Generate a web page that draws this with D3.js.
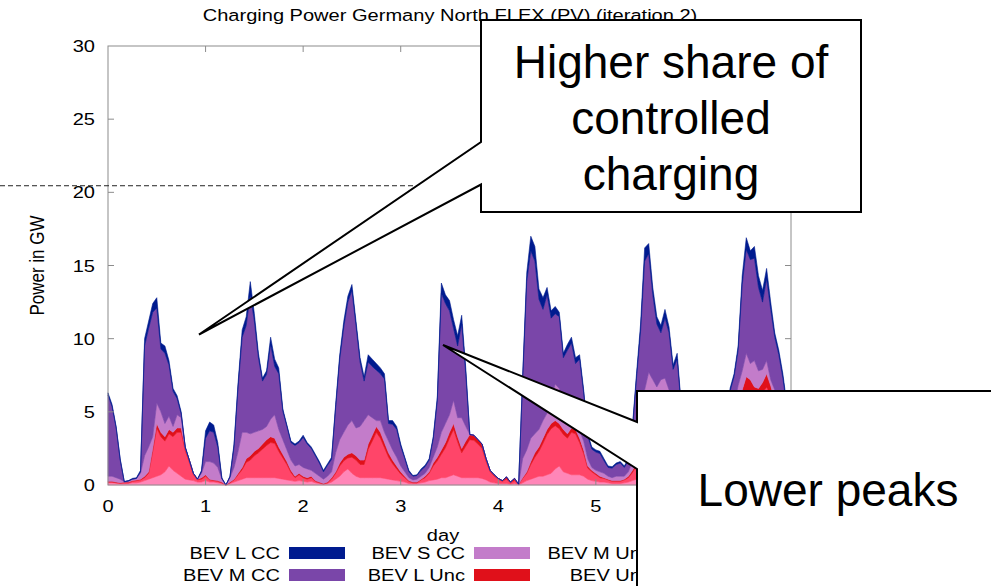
<!DOCTYPE html>
<html>
<head>
<meta charset="utf-8">
<script src="https://cdn.jsdelivr.net/npm/d3@7"></script>
<style>
  body { margin: 0; background: #fff; }
  svg { display: block; }
</style>
</head>
<body>
<svg id="chart" width="991" height="586"></svg>
<script>
// ---- data: hourly charging power in GW, one value per hour over 7 days ----
const dayTicks = [0, 1, 2, 3, 4, 5, 6, 7];
const powerTicks = [0, 5, 10, 15, 20, 25, 30];
const hoursPerDay = 24;
const previousPeak = 20.45; // GW, reference level of the earlier iteration

const bevUnc = [
  .15,.15,.12,.1,.1,.1,.15,.15,.2,.3,
  .4,.5,.6,.7,.9,1.3,1.0,.8,.6,.4,
  .35,.3,.2,.2,.3,.2,.2,.15,.1,0,
  .1,.2,.3,.4,.5,.5,.5,.5,.5,.5,
  .5,.5,.45,.4,.35,.3,.25,.3,.25,.2,
  .25,.15,.1,.05,.1,.2,.4,.6,.9,1.1,
  .8,.6,.5,.5,.5,.5,.5,.5,.45,.4,
  .35,.3,.25,.2,.1,.1,.1,.15,.2,.3,
  .35,.4,.5,.5,.6,.7,.6,.5,.5,.5,
  .5,.5,.45,.35,.2,.15,.1,.1,.1,.05,
  .1,.02,.15,.3,.4,.5,.6,.6,.7,.8,
  1.1,1.3,.9,.8,.7,.7,.7,.6,.4,.3,
  .25,.2,.2,.15,.1,.1,.1,.15,.2,.3,
  .4,.5,.7,1.0,1.0,.9,1.0,1.0,.9,.8,
  .8,.7,.5,.4,.3,.25,.2,.15,.15,.15,
  .2,.3,.4,.6,.8,1.0,1.1,1.2,1.2,1.1,
  1.1,1.1,1.2,1.1,1.0,.9,.8,.6,.4
];
const bevMUnc = [
  .05,.05,.04,.02,.05,.05,.1,.15,.15,.2,
  .4,1.8,3.3,2.6,2.1,2.2,2.3,2.8,3.0,1.95,
  1.2,.4,.15,.2,.3,.15,.1,.1,.05,0,
  .05,.15,.4,.65,1.05,1.2,1.5,1.7,1.95,2.2,
  2.4,2.35,1.85,1.45,1.05,.55,.25,.4,.25,.2,
  .25,.1,.05,.02,.05,.2,.4,.7,.75,.75,
  1.1,1.1,.9,.9,1.95,2.5,3.1,2.7,2.1,1.5,
  1.1,.8,.5,.3,.15,.05,.05,.2,.3,.5,
  .95,1.25,1.6,2.05,2.6,3.1,2.35,1.7,2.15,2.6,
  2.55,2.3,2.05,1.25,.7,.45,.3,.15,.3,.1,
  .2,.02,.3,.5,1.0,1.4,1.7,2.25,2.75,3.05,
  2.95,2.55,2.55,2.4,2.9,2.8,2.2,1.55,.75,.6,
  .45,.3,.25,.2,.15,.15,.15,.2,.3,.55,
  .9,1.7,2.9,4.8,4.7,4.2,4.4,4.6,4.1,3.75,
  3.5,2.75,1.9,1.2,.85,.55,.3,.2,.2,.3,
  .5,.75,1.35,2.2,2.9,3.9,4.7,5.3,5.2,5.0,
  4.9,5.2,5.5,5.0,4.2,3.6,3.0,2.3,1.6
];
const bevLUnc = [
  .05,.05,.04,.03,.05,.05,.05,.05,.05,.1,
  .1,.2,.3,.3,.3,.3,.3,.3,.3,.2,
  .15,.1,.05,.1,.1,.05,.05,.05,.05,0,
  .05,.05,.1,.15,.25,.3,.3,.3,.35,.4,
  .4,.35,.3,.25,.2,.15,.1,.1,.1,.1,
  .1,.05,.05,.03,.05,.1,.1,.2,.25,.25,
  .3,.3,.3,.3,.35,.4,.4,.4,.35,.3,
  .25,.2,.15,.1,.05,.05,.05,.05,.1,.1,
  .2,.25,.3,.35,.4,.4,.35,.3,.35,.35,
  .35,.3,.3,.2,.1,.1,.05,.05,.15,.05,
  .15,.01,.05,.1,.2,.3,.3,.35,.35,.35,
  .35,.35,.35,.3,.3,.3,.3,.25,.15,.1,
  .1,.1,.05,.05,.05,.05,.05,.05,.1,.15,
  .2,.3,.4,.7,.6,.5,.5,.6,.5,.45,
  .4,.35,.3,.2,.15,.1,.1,.05,.05,.05,
  .1,.15,.25,.4,.5,.6,.7,.9,.8,.6,
  .6,.7,.9,.7,.6,.5,.4,.3,.2
];
const bevSCC = [
  .35,.35,.3,.25,.02,.05,.08,.1,.4,1.4,
  1.7,.8,1.4,1.4,.9,.9,.4,.9,.7,.02,
  0,0,0,.3,.9,1.2,1.15,.9,.2,0,
  .3,.8,1.5,2.4,1.8,1.5,1.3,1.2,1.0,.9,
  1.2,1.6,1.2,1.0,.8,.7,.7,.6,.6,.6,
  .4,.5,.4,.3,.4,.4,1.3,1.6,1.7,2.0,
  2.2,1.9,2.3,2.7,2.0,1.2,.4,.8,.7,.8,
  .7,.6,.4,.3,.2,.15,.2,.2,.2,.3,
  .4,.7,1.2,1.3,1.2,1.6,1.3,2.1,1.0,0,
  0,0,0,0,0,0,0,0,0,0,
  0,0,1.3,1.5,1.6,1.3,1.2,1.2,1.1,1.6,
  2.5,2.4,1.6,.7,.2,.2,.5,.6,.5,.2,
  .2,.3,.3,.2,.2,.3,.3,.2,.3,.6,
  1.1,1.9,2.5,1.2,.9,1.1,1.3,1.1,1.0,1.0,
  .9,.8,.5,.4,.4,.3,.3,.3,.3,.4,
  .4,.6,.8,1.0,1.2,1.3,1.3,1.6,1.1,1.8,
  1.2,.9,.9,.4,.7,.8,.8,.7,.5
];
const bevMCC = [
  5.55,4.75,3.4,1.3,0,.02,.02,0,.1,7.5,
  8.1,8.5,6.5,4.3,4.8,3.5,2.4,1.1,.25,0,
  0,0,0,.1,1.6,2.1,2.1,1.4,.05,0,
  .05,1.4,4.4,6.5,7.3,9.5,7.6,5.0,3.3,3.55,
  5.1,3.3,3.8,1.95,1.6,1.2,1.4,1.5,2.05,1.7,
  1.5,1.2,.9,.5,.75,.85,3.1,5.5,7.2,8.4,
  8.9,7.0,4.4,2.7,3.6,3.5,3.45,3.2,3.65,1.2,
  1.75,1.9,1.35,.9,.4,.25,.25,.4,.45,.5,
  1.25,3.15,9.5,8.2,7.1,4.9,4.9,6.4,3.6,0,
  0,0,0,0,0,0,0,0,0,0,
  0,0,5.4,11.5,12.8,11.8,8.9,7.6,8.1,5.6,
  4.8,4.9,3.3,5.0,5.6,4.3,4.9,3.3,1.55,1.25,
  1.25,1.25,.85,.6,.65,.8,.9,.6,.75,2.2,
  4.7,6.1,8.8,8.1,5.8,4.3,3.2,4.1,3.9,1.9,
  3.0,.7,.2,.2,.2,.2,.2,.2,.2,.3,
  .5,.55,1.0,2.2,2.0,2.4,5.9,7.1,7.1,7.0,
  5.7,4.6,5.6,4.8,3.6,3.1,2.3,1.4,.7
];
const bevLCC = [
  .15,.15,.1,.1,.03,.03,.05,.05,.1,.5,
  .5,.6,.7,.4,.5,.3,.2,.2,.15,.03,
  0,0,0,.1,.5,.6,.5,.3,.05,0,
  .05,.2,.3,.5,.6,.9,.5,.3,.2,.25,
  .5,.5,.4,.15,.1,.1,.1,.1,.15,.1,
  .1,.1,.1,.1,.1,.15,.2,.3,.4,.4,
  .4,.3,.3,.3,.5,.5,.45,.4,.35,.2,
  .25,.2,.15,.1,.1,.05,.05,.1,.1,.1,
  .15,.25,.7,.6,.7,.6,.7,.6,.4,0,
  0,0,0,0,0,0,0,0,0,0,
  0,0,.3,.6,1.0,1.0,.7,.8,.5,.5,
  .5,.3,.3,.4,.4,.4,.3,.2,.15,.15,
  .15,.15,.15,.1,.1,.1,.1,.1,.15,.2,
  .3,.5,.9,.7,.5,.5,.5,.6,.4,.3,
  .4,.2,.1,.1,.1,.1,.1,.1,.1,.1,
  .1,.15,.2,.2,.2,.3,.6,.8,.6,.8,
  .8,.8,.7,.5,.3,.3,.3,.2,.1
];

// stacking order, bottom to top
const seriesKeys = ["unc", "mUnc", "lUnc", "sCC", "mCC", "lCC"];
const seriesValues = { unc: bevUnc, mUnc: bevMUnc, lUnc: bevLUnc, sCC: bevSCC, mCC: bevMCC, lCC: bevLCC };
const seriesLabels = { lCC: "BEV L CC", mCC: "BEV M CC", sCC: "BEV S CC", lUnc: "BEV L Unc", mUnc: "BEV M Unc", unc: "BEV Unc" };
const seriesColors = { lCC: "#001b8f", mCC: "#7a46a9", sCC: "#c37cca", lUnc: "#e0101a", mUnc: "#ff4569", unc: "#ff86b8" };
const legendOrder = ["lCC", "mCC", "sCC", "lUnc", "mUnc", "unc"];

// ---- layout ----
const svg = d3.select("#chart");
const plot = { left: 108, right: 791, top: 46, bottom: 485 };
const FONT = "'Liberation Sans', Arial, Helvetica, sans-serif";
const SX = 1.18; // gnuplot text is rendered slightly wide

const x = d3.scaleLinear().domain([0, 7]).range([plot.left, plot.right]);
const y = d3.scaleLinear().domain([0, 30]).range([plot.bottom, plot.top]);

const rows = bevLCC.map((_, i) => {
  const r = { day: i / hoursPerDay };
  seriesKeys.forEach(k => r[k] = seriesValues[k][i]);
  return r;
});
const stacked = d3.stack().keys(seriesKeys)(rows);

const area = d3.area()
  .x(d => x(d.data.day))
  .y0(d => y(d[0]))
  .y1(d => y(d[1]));

svg.append("g").selectAll("path")
  .data(stacked)
  .join("path")
  .attr("d", area)
  .attr("fill", d => seriesColors[d.key])
  .attr("stroke", d => seriesColors[d.key])
  .attr("stroke-width", 0.6);

// helper for horizontally widened text
function wideText(g, tx, ty, str, anchor, size, extra) {
  return g.append("text")
    .attr("transform", `translate(${tx},${ty}) scale(${SX},1)` + (extra || ""))
    .attr("text-anchor", anchor)
    .attr("font-family", FONT)
    .attr("font-size", size)
    .attr("fill", "#000")
    .text(str);
}

// ---- frame and ticks ----
const frame = svg.append("g");
frame.append("rect")
  .attr("x", plot.left).attr("y", plot.top)
  .attr("width", plot.right - plot.left).attr("height", plot.bottom - plot.top)
  .attr("fill", "none").attr("stroke", "#8c8c8c").attr("stroke-width", 1);

const tickLen = 6;
powerTicks.slice(1, -1).forEach(v => {
  frame.append("line").attr("x1", plot.left).attr("x2", plot.left + tickLen)
    .attr("y1", y(v)).attr("y2", y(v)).attr("stroke", "#8c8c8c");
  frame.append("line").attr("x1", plot.right).attr("x2", plot.right - tickLen)
    .attr("y1", y(v)).attr("y2", y(v)).attr("stroke", "#8c8c8c");
});
dayTicks.slice(1, -1).forEach(v => {
  frame.append("line").attr("x1", x(v)).attr("x2", x(v))
    .attr("y1", plot.top).attr("y2", plot.top + tickLen).attr("stroke", "#8c8c8c");
  frame.append("line").attr("x1", x(v)).attr("x2", x(v))
    .attr("y1", plot.bottom).attr("y2", plot.bottom - tickLen).attr("stroke", "#8c8c8c");
});

const labels = svg.append("g");
powerTicks.forEach(v => wideText(labels, plot.left - 13, y(v) + 6, String(v), "end", 17));
dayTicks.forEach(v => wideText(labels, x(v), plot.bottom + 27, String(v), "middle", 17));

wideText(labels, 443, 541, "day", "middle", 17);
labels.append("text")
  .attr("transform", `translate(44,${(plot.top + plot.bottom) / 2}) scale(${SX},1) rotate(-90)`)
  .attr("text-anchor", "middle")
  .attr("font-family", FONT).attr("font-size", 17)
  .text("Power in GW");

wideText(labels, 450, 21, "Charging Power Germany North FLEX (PV) (iteration 2)", "middle", 17);

// ---- legend ----
const legend = svg.append("g");
const legendCols = [280, 465, 651];
const legendRows = [553, 575];
legendOrder.forEach((k, i) => {
  const col = Math.floor(i / 2), row = i % 2;
  const lx = legendCols[col], ly = legendRows[row];
  wideText(legend, lx, ly + 6, seriesLabels[k], "end", 17);
  legend.append("rect")
    .attr("x", lx + 9).attr("y", ly - 6)
    .attr("width", 56).attr("height", 12)
    .attr("fill", seriesColors[k]);
});

// ---- reference level from the previous iteration ----
svg.append("line")
  .attr("x1", 0).attr("x2", 481)
  .attr("y1", y(previousPeak)).attr("y2", y(previousPeak))
  .attr("stroke", "#222").attr("stroke-width", 1)
  .attr("stroke-dasharray", "5,3");

// ---- callouts ----
const callouts = svg.append("g");
callouts.append("path")
  .attr("d", "M481,20 H861 V212 H481 V184.5 L199,334.5 L481,142 Z")
  .attr("fill", "#fff").attr("stroke", "#000").attr("stroke-width", 2)
  .attr("stroke-linejoin", "miter");
["Higher share of", "controlled", "charging"].forEach((t, i) => {
  callouts.append("text")
    .attr("x", 671).attr("y", 78 + i * 56)
    .attr("text-anchor", "middle")
    .attr("font-family", FONT).attr("font-size", 46)
    .text(t);
});

callouts.append("path")
  .attr("d", "M637,391 H996 V592 H637 V469 L443,345 L637,422 Z")
  .attr("fill", "#fff").attr("stroke", "#000").attr("stroke-width", 2)
  .attr("stroke-linejoin", "miter");
callouts.append("text")
  .attr("x", 828).attr("y", 506)
  .attr("text-anchor", "middle")
  .attr("font-family", FONT).attr("font-size", 46)
  .text("Lower peaks");
</script>
</body>
</html>
